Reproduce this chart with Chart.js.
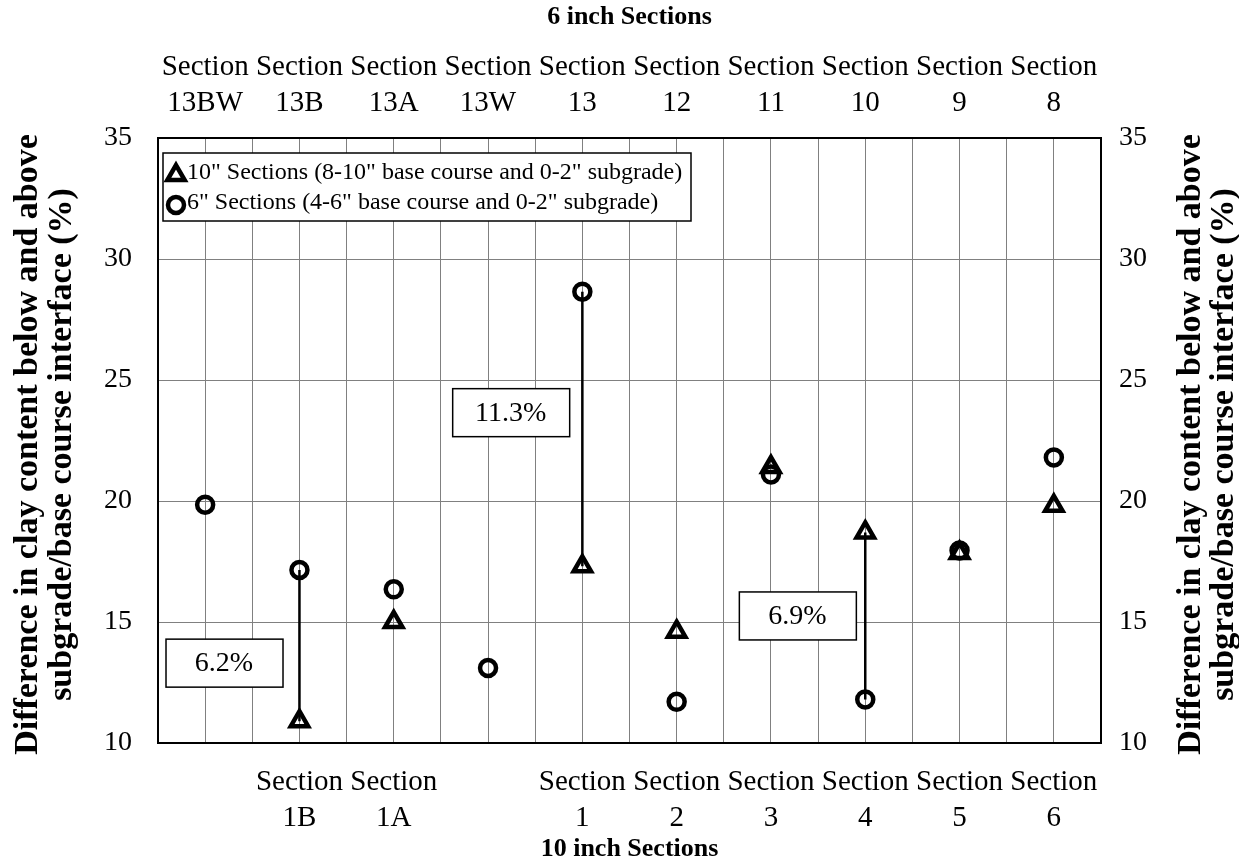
<!DOCTYPE html>
<html>
<head>
<meta charset="utf-8">
<script src="https://cdn.jsdelivr.net/npm/chart.js@4.4.1/dist/chart.umd.min.js"></script>
<style>
  html, body { margin: 0; padding: 0; background: #fff; }
  #wrap { width: 1239px; height: 865px; }
</style>
</head>
<body>
<div id="wrap"><canvas id="clay-chart"></canvas></div>
<script>
// data
const topSections    = ['13BW', '13B', '13A', '13W', '13', '12', '11', '10', '9', '8'];
const bottomSections = ['', '1B', '1A', '', '1', '2', '3', '4', '5', '6'];
const tenInch = [null, 10.9, 15.0, null, 17.3, 14.6, 21.4, 18.7, 17.85, 19.8];
const sixInch = [19.85, 17.15, 16.35, 13.1, 28.65, 11.7, 21.1, 11.8, 17.95, 21.8];
const diffIdx    = [1, 4, 7];
const diffLabels = ['6.2%', '11.3%', '6.9%'];
const yMin = 10, yMax = 35, yStep = 5;

const SERIF = "'Liberation Serif', 'Times New Roman', serif";
const yTitle = ['Difference in clay content below and above', 'subgrade/base course interface (%)'];

// boxes with the differences, placed in data units
const boxPos = [{ x: 0.7, y: 13.3 }, { x: 3.74, y: 23.65 }, { x: 6.78, y: 15.25 }];

const toPoints = arr => arr.map((v, i) => ({ x: i + 0.5, y: v })).filter(p => p.y !== null);

const connectors = [];
diffIdx.forEach(i => {
  connectors.push({ x: i + 0.5, y: sixInch[i] });
  connectors.push({ x: i + 0.5, y: tenInch[i] });
  connectors.push({ x: i + 0.5, y: null });
});

function sectionLabel(list, value) {
  const i = value - 0.5;
  if (!Number.isInteger(i) || !list[i]) return '';
  return ['Section', list[i]];
}

function drawMarker(ctx, style, x, y) {
  ctx.save();
  ctx.strokeStyle = '#000';
  ctx.lineWidth = 4.5;
  ctx.beginPath();
  if (style === 'triangle') {
    const r = 10;
    ctx.moveTo(x, y - r);
    ctx.lineTo(x + r * Math.sin(2 * Math.PI / 3), y + r / 2);
    ctx.lineTo(x - r * Math.sin(2 * Math.PI / 3), y + r / 2);
    ctx.closePath();
  } else {
    ctx.arc(x, y, 8, 0, Math.PI * 2);
  }
  ctx.stroke();
  ctx.restore();
}

const extras = {
  id: 'extras',
  afterDatasetsDraw(chart) {
    const { ctx, scales } = chart;

    // legend box
    ctx.save();
    ctx.fillStyle = '#fff';
    ctx.strokeStyle = '#000';
    ctx.lineWidth = 1.5;
    ctx.fillRect(163, 153, 528, 68);
    ctx.strokeRect(163, 153, 528, 68);
    ctx.fillStyle = '#000';
    ctx.font = `24px ${SERIF}`;
    ctx.textBaseline = 'middle';
    ctx.textAlign = 'left';
    const legendSets = chart.data.datasets.filter(d => d.inLegend);
    legendSets.forEach((d, k) => {
      const y = 173 + k * 30;
      drawMarker(ctx, d.pointStyle, 176, y + 2);
      ctx.fillText(d.label, 187, y);
    });

    // difference boxes
    ctx.font = `28px ${SERIF}`;
    ctx.textAlign = 'center';
    diffLabels.forEach((t, k) => {
      const cx = scales.x.getPixelForValue(boxPos[k].x);
      const cy = scales.y.getPixelForValue(boxPos[k].y);
      ctx.fillStyle = '#fff';
      ctx.fillRect(cx - 58, cy - 24, 117, 48);
      ctx.strokeRect(cx - 58, cy - 24, 117, 48);
      ctx.fillStyle = '#000';
      ctx.fillText(t, cx, cy + 1);
    });
    ctx.restore();
  },
  afterDraw(chart) {
    const { ctx } = chart;
    const area = chart.chartArea;
    const cy = (area.top + area.bottom) / 2 + 4;
    ctx.save();
    ctx.fillStyle = '#000';
    ctx.font = `bold 34px ${SERIF}`;
    ctx.textAlign = 'center';
    ctx.textBaseline = 'middle';
    [[28, 62], [1191, 1224]].forEach(xs => {
      xs.forEach((x, k) => {
        ctx.save();
        ctx.translate(x, cy);
        ctx.rotate(-Math.PI / 2);
        ctx.fillText(yTitle[k], 0, 0);
        ctx.restore();
      });
    });
    ctx.restore();
  }
};

const tickFont = { family: SERIF, size: 29, lineHeight: 1.24 };

new Chart(document.getElementById('clay-chart'), {
  type: 'scatter',
  data: {
    datasets: [
      {
        label: '10" Sections (8-10" base course and 0-2" subgrade)',
        data: toPoints(tenInch),
        pointStyle: 'triangle',
        pointRadius: 10,
        pointBorderWidth: 4.5,
        borderColor: '#000',
        backgroundColor: 'rgba(0,0,0,0)',
        inLegend: true,
        order: 2,
      },
      {
        label: '6" Sections (4-6" base course and 0-2" subgrade)',
        data: toPoints(sixInch),
        pointStyle: 'circle',
        pointRadius: 8,
        pointBorderWidth: 4.5,
        borderColor: '#000',
        backgroundColor: 'rgba(0,0,0,0)',
        inLegend: true,
        order: 1,
      },
      {
        label: 'difference',
        data: connectors,
        showLine: true,
        spanGaps: false,
        borderColor: '#000',
        borderWidth: 2.5,
        pointRadius: 0,
        order: 3,
      },
    ],
  },
  options: {
    responsive: true,
    maintainAspectRatio: false,
    animation: false,
    layout: { padding: 0 },
    plugins: { legend: { display: false }, tooltip: { enabled: false } },
    scales: {
      x: {
        type: 'linear',
        position: 'bottom',
        min: 0, max: 10,
        afterFit: s => { s.height = 122; },
        ticks: {
          stepSize: 0.5, autoSkip: false, maxRotation: 0, minRotation: 0,
          padding: 21, color: '#000', font: tickFont,
          callback: v => sectionLabel(bottomSections, v),
        },
        grid: { color: '#808080', lineWidth: 1, drawTicks: false },
        border: { color: '#000', width: 2 },
        title: {
          display: true, text: '10 inch Sections', color: '#000',
          font: { family: SERIF, size: 26, weight: 'bold', lineHeight: 1.2 },
          padding: { top: 0, bottom: 0 },
        },
      },
      xTop: {
        type: 'linear',
        position: 'top',
        min: 0, max: 10,
        afterFit: s => { s.height = 138; },
        ticks: {
          stepSize: 0.5, autoSkip: false, maxRotation: 0, minRotation: 0,
          padding: 17, color: '#000', font: tickFont,
          callback: v => sectionLabel(topSections, v),
        },
        grid: { display: false, drawTicks: false },
        border: { color: '#000', width: 2 },
        title: {
          display: true, text: '6 inch Sections', color: '#000',
          font: { family: SERIF, size: 26, weight: 'bold', lineHeight: 1.2 },
          padding: { top: 2, bottom: 0 },
        },
      },
      y: {
        position: 'left',
        min: yMin, max: yMax,
        afterFit: s => { s.width = 158; },
        ticks: { stepSize: yStep, padding: 26, color: '#000', font: { family: SERIF, size: 28 } },
        grid: { color: '#808080', lineWidth: 1, drawTicks: false },
        border: { color: '#000', width: 2 },
      },
      y2: {
        position: 'right',
        min: yMin, max: yMax,
        afterFit: s => { s.width = 138; },
        ticks: { stepSize: yStep, padding: 18, color: '#000', font: { family: SERIF, size: 28 } },
        grid: { display: false, drawTicks: false },
        border: { color: '#000', width: 2 },
      },
    },
  },
  plugins: [extras],
});
</script>
</body>
</html>
